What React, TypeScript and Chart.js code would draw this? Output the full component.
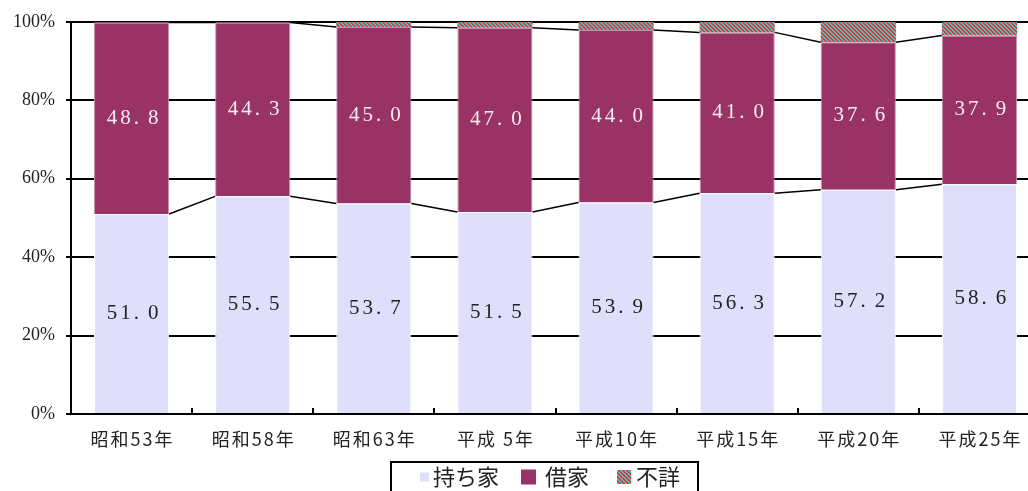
import React, { useEffect, useRef } from "react";
import { Chart, registerables } from "chart.js";

Chart.register(...registerables);

const categories = ["昭和53年", "昭和58年", "昭和63年", "平成 5年", "平成10年", "平成15年", "平成20年", "平成25年"];
const ownedHouse = [51.0, 55.5, 53.7, 51.5, 53.9, 56.3, 57.2, 58.6];
const rentedHouse = [48.8, 44.3, 45.0, 47.0, 44.0, 41.0, 37.6, 37.9];
const unknown = [0.2, 0.2, 1.3, 1.5, 2.1, 2.7, 5.2, 3.5];
const seriesNames = ["持ち家", "借家", "不詳"];
const yTicks = [0, 20, 40, 60, 80, 100];

const OWN_COLOR = "#dfdffc";
const RENT_COLOR = "#993366";

function makeHatch(): CanvasPattern | string {
  const c = document.createElement("canvas");
  c.width = 4;
  c.height = 4;
  const g = c.getContext("2d");
  if (!g) return "#33cccc";
  g.fillStyle = "#33cccc";
  g.fillRect(0, 0, 4, 4);
  g.fillStyle = "#ff2a2a";
  for (let i = 0; i < 4; i++) {
    g.fillRect(i, i, 2, 1);
    if (i === 3) g.fillRect(0, 3, 1, 1);
  }
  const p = g.createPattern(c, "repeat");
  return p || "#33cccc";
}

export default function App() {
  const ref = useRef<HTMLCanvasElement | null>(null);

  useEffect(() => {
    if (!ref.current) return;
    const hatch = makeHatch();

    const overlay = {
      id: "overlay",
      afterDatasetsDraw(chart: any) {
        const ctx = chart.ctx;
        const area = chart.chartArea;
        const xs = chart.scales.x;
        // series lines
        ctx.save();
        ctx.strokeStyle = "#000";
        ctx.lineWidth = 1.5;
        for (let d = 0; d < 2; d++) {
          const meta = chart.getDatasetMeta(d);
          for (let i = 0; i < meta.data.length - 1; i++) {
            const a = meta.data[i];
            const b = meta.data[i + 1];
            ctx.beginPath();
            ctx.moveTo(a.x + a.width / 2, a.y);
            ctx.lineTo(b.x - b.width / 2, b.y);
            ctx.stroke();
          }
        }
        // x tick marks at category boundaries (inside)
        ctx.lineWidth = 2;
        for (let i = 0; i < categories.length - 1; i++) {
          const bx = Math.round((xs.getPixelForValue(i) + xs.getPixelForValue(i + 1)) / 2);
          ctx.beginPath();
          ctx.moveTo(bx, area.bottom);
          ctx.lineTo(bx, area.bottom - 6);
          ctx.stroke();
        }
        ctx.restore();

        // x category labels
        ctx.save();
        ctx.font = "18px 'Noto Sans CJK JP', sans-serif";
        (ctx as any).letterSpacing = "2px";
        ctx.textAlign = "center";
        ctx.textBaseline = "middle";
        ctx.fillStyle = "#222";
        categories.forEach((c, i) => {
          ctx.fillText(c, xs.getPixelForValue(i) + 1, 439);
        });
        ctx.restore();

        // data labels
        ctx.save();
        ctx.font = "21px 'Liberation Serif', 'DejaVu Serif', serif";
        ctx.textBaseline = "middle";
        ctx.textAlign = "left";
        const labelSets = [
          { d: 0, vals: ownedHouse, color: "#222" },
          { d: 1, vals: rentedHouse, color: "#f6ecf2" },
        ];
        labelSets.forEach((s) => {
          const meta = chart.getDatasetMeta(s.d);
          meta.data.forEach((el: any, i: number) => {
            const mid = (el.y + el.base) / 2;
            const txt = s.vals[i].toFixed(1);
            const dot = txt.indexOf(".");
            const head = txt.slice(0, dot + 1);
            const tail = txt.slice(dot + 1);
            (ctx as any).letterSpacing = "3px";
            const hw = ctx.measureText(head).width;
            (ctx as any).letterSpacing = "0px";
            const tw = ctx.measureText(tail).width;
            const gap = 6;
            const total = hw + gap + tw;
            const x0 = el.x + 1 - total / 2;
            ctx.fillStyle = s.color;
            (ctx as any).letterSpacing = "3px";
            ctx.fillText(head, x0, mid);
            (ctx as any).letterSpacing = "0px";
            ctx.fillText(tail, x0 + hw + gap, mid);
          });
        });
        ctx.restore();

        // legend
        ctx.save();
        const lx = 391, ly = 462, lw = 307, lh = 40;
        ctx.strokeStyle = "#000";
        ctx.lineWidth = 2;
        ctx.strokeRect(lx, ly, lw, lh);
        ctx.font = "22px 'Noto Sans CJK JP', sans-serif";
        ctx.textBaseline = "middle";
        ctx.textAlign = "left";
        const cy = 477;
        const items = [
          { mx: 420, size: 9, fill: OWN_COLOR as any, tx: 433 },
          { mx: 521, size: 15, fill: RENT_COLOR as any, tx: 545 },
          { mx: 617, size: 14, fill: hatch as any, tx: 636 },
        ];
        items.forEach((it, k) => {
          ctx.fillStyle = it.fill;
          ctx.fillRect(it.mx, cy - it.size / 2, it.size, it.size);
          ctx.fillStyle = "#222";
          ctx.fillText(seriesNames[k], it.tx, cy);
        });
        ctx.restore();
      },
    };

    const chart = new Chart(ref.current, {
      type: "bar",
      data: {
        labels: categories,
        datasets: [
          {
            label: seriesNames[0],
            data: ownedHouse,
            backgroundColor: OWN_COLOR,
            borderColor: "#ffffff",
            borderWidth: 1,
            barPercentage: 0.62,
            categoryPercentage: 1,
          },
          {
            label: seriesNames[1],
            data: rentedHouse,
            backgroundColor: RENT_COLOR,
            borderColor: "#c98fb0",
            borderWidth: 1,
            barPercentage: 0.62,
            categoryPercentage: 1,
          },
          {
            label: seriesNames[2],
            data: unknown,
            backgroundColor: hatch as any,
            borderWidth: 0,
            barPercentage: 0.62,
            categoryPercentage: 1,
          },
        ],
      },
      options: {
        animation: false,
        responsive: false,
        maintainAspectRatio: false,
        layout: { padding: { top: 20, left: 0, right: 0, bottom: 0 } },
        plugins: {
          legend: { display: false },
          tooltip: { enabled: false },
        },
        scales: {
          x: {
            stacked: true,
            grid: { display: false, drawTicks: false },
            border: { display: true, color: "#000", width: 2 },
            ticks: { display: false, autoSkip: false },
            afterFit(scale: any) {
              scale.height = 77;
            },
          },
          y: {
            stacked: true,
            min: 0,
            max: 100,
            afterBuildTicks(scale: any) {
              scale.ticks = yTicks.map((v) => ({ value: v }));
            },
            grid: { color: "#000", lineWidth: 2, drawTicks: true, tickLength: 5, tickColor: "#000" },
            border: { display: true, color: "#000", width: 2 },
            ticks: {
              color: "#222",
              font: { family: "'Liberation Serif', serif", size: 18 },
              padding: 11,
              callback: (v: any) => v + "%",
            },
            afterFit(scale: any) {
              scale.width = 71;
            },
          },
        },
      },
      plugins: [overlay],
    });
    return () => chart.destroy();
  }, []);

  return (
    <div style={{ position: "fixed", left: 0, top: 0, width: 1028, height: 491, overflow: "hidden", background: "#fff" }}>
      <canvas ref={ref} width={1040} height={491} style={{ width: 1040, height: 491, display: "block" }} />
    </div>
  );
}
